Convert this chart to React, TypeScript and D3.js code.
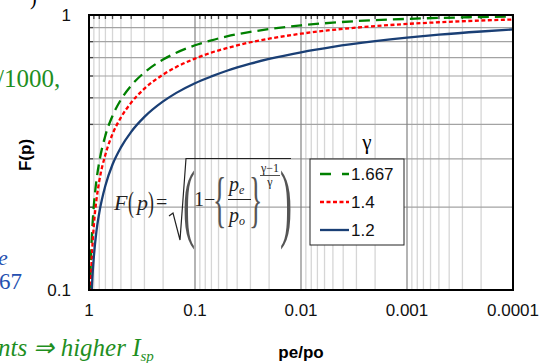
import { useEffect, useRef } from "react";
import * as d3 from "d3";

// pressure ratio pe/po (x axis, read right to left)
const ratio = [0.99, 0.97, 0.95, 0.93, 0.9, 0.85, 0.8, 0.7, 0.6, 0.5, 0.4, 0.3, 0.2, 0.15, 0.1, 0.07, 0.05, 0.03, 0.02, 0.01, 0.005, 0.002, 0.001, 0.0005, 0.0002, 0.0001];

// F(p) for each gamma
const fGamma1667 = [0.063, 0.11, 0.143, 0.169, 0.203, 0.251, 0.292, 0.365, 0.43, 0.492, 0.554, 0.618, 0.689, 0.729, 0.776, 0.809, 0.836, 0.868, 0.889, 0.917, 0.938, 0.958, 0.968, 0.976, 0.983, 0.987];
const fGamma14 = [0.054, 0.093, 0.121, 0.143, 0.172, 0.213, 0.249, 0.311, 0.369, 0.424, 0.48, 0.54, 0.607, 0.647, 0.694, 0.73, 0.758, 0.796, 0.82, 0.855, 0.883, 0.911, 0.928, 0.941, 0.955, 0.963];
const fGamma12 = [0.041, 0.071, 0.092, 0.11, 0.132, 0.164, 0.191, 0.24, 0.286, 0.33, 0.376, 0.426, 0.485, 0.521, 0.565, 0.598, 0.627, 0.665, 0.692, 0.732, 0.766, 0.803, 0.827, 0.848, 0.871, 0.886];

const seriesNames = ["1.667", "1.4", "1.2"];
const seriesColors = ["#008000", "#ff0000", "#1a3f75"];
const seriesDash = ["11,6", "4,2.5", null];

const xTicks = [1, 0.1, 0.01, 0.001, 0.0001];
const xTickLabels = ["1", "0.1", "0.01", "0.001", "0.0001"];
const yTicks = [0.1, 1];
const yTickLabels = ["0.1", "1"];
const yGrid = [0.2, 0.3, 0.4, 0.5, 0.6, 0.7, 0.8, 0.9];

export default function App() {
  const ref = useRef<SVGSVGElement>(null);

  useEffect(() => {
    if (!ref.current) return;
    const svg = d3.select(ref.current);
    svg.selectAll("*").remove();

    const width = 542;
    const height = 363;
    const margin = { top: 15, right: 29, bottom: 73, left: 89 };

    const x = d3.scaleLog().domain([1, 0.0001]).range([margin.left, width - margin.right]);
    const y = d3.scaleLog().domain([0.1, 1]).range([height - margin.bottom, margin.top]);
    const x0 = margin.left, x1 = width - margin.right, y0 = margin.top, y1 = height - margin.bottom;

    svg.append("rect").attr("width", width).attr("height", height).attr("fill", "white");

    // slide text around the chart
    const serif = "'Liberation Serif', 'Times New Roman', serif";
    svg.append("text").attr("x", 30).attr("y", 5).style("font-family", serif).style("font-size", "20px").text(")");
    svg.append("text").attr("x", -3).attr("y", 87).style("font-family", serif).style("font-size", "25px")
      .attr("fill", "#1f8f1f").text("/1000,");
    svg.append("text").attr("x", -2).attr("y", 265).style("font-family", serif).style("font-size", "22px")
      .style("font-style", "italic").attr("fill", "#2550b0").text("e");
    svg.append("text").attr("x", -1).attr("y", 289).style("font-family", serif).style("font-size", "23px")
      .attr("fill", "#2550b0").text("67");
    const bottomText = svg.append("text").attr("x", -2).attr("y", 356).style("font-family", serif)
      .style("font-size", "25px").style("font-style", "italic").attr("fill", "#1f8f1f");
    bottomText.append("tspan").text("nts \u21D2 higher I");
    bottomText.append("tspan").attr("dy", 5).style("font-size", "15px").text("sp");

    // grid
    const minors: number[] = [];
    [1, 0.1, 0.01, 0.001].forEach((d) => {
      for (let k = 2; k <= 9; k++) minors.push((d / 10) * k);
    });
    svg.append("g").selectAll("line").data(minors).join("line")
      .attr("x1", (d) => x(d)).attr("x2", (d) => x(d)).attr("y1", y0).attr("y2", y1)
      .attr("stroke", "#d6d6d6").attr("stroke-width", 1.3);
    svg.append("g").selectAll("line").data(yGrid).join("line")
      .attr("x1", x0).attr("x2", x1).attr("y1", (d) => y(d)).attr("y2", (d) => y(d))
      .attr("stroke", "#a3a3a3").attr("stroke-width", 1.2);
    svg.append("g").selectAll("line").data([0.1, 0.01, 0.001]).join("line")
      .attr("x1", (d) => x(d)).attr("x2", (d) => x(d)).attr("y1", y0).attr("y2", y1)
      .attr("stroke", "#828282").attr("stroke-width", 1.2);

    // small inward ticks on top and left edges
    svg.append("g").selectAll("line").data(minors).join("line")
      .attr("x1", (d) => x(d)).attr("x2", (d) => x(d)).attr("y1", y0).attr("y2", y0 + 4)
      .attr("stroke", "#444").attr("stroke-width", 1.3);
    svg.append("g").selectAll("line").data(yGrid).join("line")
      .attr("x1", x0).attr("x2", x0 + 4).attr("y1", (d) => y(d)).attr("y2", (d) => y(d))
      .attr("stroke", "#444").attr("stroke-width", 1.3);

    // formula (transparent, over the grid)
    const f = svg.append("g").style("font-family", serif).attr("fill", "#222");
    f.append("text").attr("x", 114).attr("y", 210).style("font-size", "22px").style("font-style", "italic").text("F");
    f.append("text").attr("x", 128).attr("y", 212).attr("transform", "translate(128,212) scale(0.8,1.35) translate(-128,-212)")
      .style("font-size", "22px").text("(");
    f.append("text").attr("x", 137).attr("y", 210).style("font-size", "22px").style("font-style", "italic").text("p");
    f.append("text").attr("x", 148).attr("y", 212).attr("transform", "translate(148,212) scale(0.8,1.35) translate(-148,-212)")
      .style("font-size", "22px").text(")");
    f.append("text").attr("x", 156).attr("y", 209).style("font-size", "20px").text("=");
    f.append("path").attr("d", "M169,216 L173,213 L180,240 L186,158.5 L291,158.5")
      .attr("fill", "none").attr("stroke", "#222").attr("stroke-width", 1.2);
    f.append("text").attr("x", 183).attr("y", 231).attr("transform", "translate(183,231) scale(0.42,1) translate(-183,-231)")
      .style("font-size", "86px").attr("fill", "#555").text("(");
    f.append("text").attr("x", 280).attr("y", 231).attr("transform", "translate(280,231) scale(0.42,1) translate(-280,-231)")
      .style("font-size", "86px").attr("fill", "#555").text(")");
    f.append("text").attr("x", 194).attr("y", 206).style("font-size", "20px").text("1\u2212");
    f.append("text").attr("x", 213).attr("y", 220).attr("transform", "translate(213,220) scale(0.45,1) translate(-213,-220)")
      .style("font-size", "62px").attr("fill", "#555").text("{");
    f.append("text").attr("x", 249).attr("y", 220).attr("transform", "translate(249,220) scale(0.45,1) translate(-249,-220)")
      .style("font-size", "62px").attr("fill", "#555").text("}");
    const pe = f.append("text").attr("x", 229).attr("y", 191).style("font-size", "20px").style("font-style", "italic");
    pe.append("tspan").text("p");
    pe.append("tspan").attr("dy", 3).style("font-size", "12px").text("e");
    f.append("line").attr("x1", 228).attr("x2", 251).attr("y1", 199.5).attr("y2", 199.5).attr("stroke", "#222").attr("stroke-width", 1);
    const po = f.append("text").attr("x", 229).attr("y", 222).style("font-size", "20px").style("font-style", "italic");
    po.append("tspan").text("p");
    po.append("tspan").attr("dy", 3).style("font-size", "12px").text("o");
    f.append("text").attr("x", 270).attr("y", 172).attr("text-anchor", "middle").style("font-size", "12px")
      .text("\u03B3\u22121");
    f.append("line").attr("x1", 260).attr("x2", 280).attr("y1", 175.5).attr("y2", 175.5).attr("stroke", "#222").attr("stroke-width", 0.8);
    f.append("text").attr("x", 270).attr("y", 186).attr("text-anchor", "middle").style("font-size", "12px")
      .text("\u03B3");

    // curves
    svg.append("clipPath").attr("id", "plotClip").append("rect")
      .attr("x", x0).attr("y", y0).attr("width", x1 - x0).attr("height", y1 - y0);
    const line = d3.line<[number, number]>()
      .x((d) => x(d[0]))
      .y((d) => y(d[1]))
      .curve(d3.curveMonotoneX);
    [fGamma1667, fGamma14, fGamma12].forEach((vals, i) => {
      const pts = ratio.map((r, j) => [r, vals[j]] as [number, number]);
      svg.append("path").datum(pts).attr("d", line).attr("clip-path", "url(#plotClip)")
        .attr("fill", "none").attr("stroke", seriesColors[i]).attr("stroke-width", 2.3)
        .attr("stroke-dasharray", seriesDash[i]);
    });

    // frame
    svg.append("rect").attr("x", x0).attr("y", y0).attr("width", x1 - x0).attr("height", y1 - y0)
      .attr("fill", "none").attr("stroke", "#000").attr("stroke-width", 2);

    // tick labels
    const sans = "'Liberation Sans', Arial, sans-serif";
    svg.append("g").selectAll("text").data(xTicks).join("text")
      .attr("x", (d) => x(d)).attr("y", y1 + 26).attr("text-anchor", "middle")
      .style("font-family", sans).style("font-size", "17px").attr("fill", "#111")
      .text((d, i) => xTickLabels[i]);
    svg.append("g").selectAll("text").data(yTicks).join("text")
      .attr("x", x0 - 18).attr("y", (d) => y(d) + 6).attr("text-anchor", "end")
      .style("font-family", sans).style("font-size", "17px").attr("fill", "#111")
      .text((d, i) => yTickLabels[i]);

    // axis titles
    svg.append("text").attr("x", 301).attr("y", 358).attr("text-anchor", "middle")
      .style("font-family", sans).style("font-size", "17px").style("font-weight", "bold").text("pe/po");
    svg.append("text").attr("transform", "translate(31,155) rotate(-90)").attr("text-anchor", "middle")
      .style("font-family", sans).style("font-size", "17px").style("font-weight", "bold").text("F(p)");

    // legend
    const lg = svg.append("g");
    lg.append("text").attr("x", 367).attr("y", 149).attr("text-anchor", "middle")
      .style("font-family", serif).style("font-size", "21px").text("\u03B3");
    lg.append("rect").attr("x", 310).attr("y", 159).attr("width", 94).attr("height", 86)
      .attr("fill", "white").attr("stroke", "#222").attr("stroke-width", 1);
    seriesNames.forEach((name, i) => {
      const ly = 174 + i * 28;
      lg.append("line").attr("x1", 320).attr("x2", 349).attr("y1", ly).attr("y2", ly)
        .attr("stroke", seriesColors[i]).attr("stroke-width", 2.3)
        .attr("stroke-dasharray", i === 0 ? "11,11" : seriesDash[i]);
      lg.append("text").attr("x", 351).attr("y", ly + 6).style("font-family", sans)
        .style("font-size", "17px").attr("fill", "#111").text(name);
    });
  }, []);

  return (
    <svg ref={ref} width={542} height={363} style={{ position: "absolute", left: 0, top: 0 }} />
  );
}
